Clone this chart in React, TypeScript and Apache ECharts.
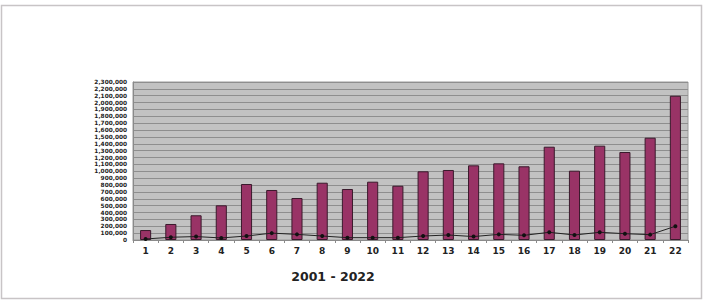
import React, { useEffect, useRef } from "react";
import * as echarts from "echarts";

const categories = ["1","2","3","4","5","6","7","8","9","10","11","12","13","14","15","16","17","18","19","20","21","22"];
const barValues = [145000, 233000, 360000, 505000, 815000, 728000, 611000, 834000, 742000, 849000, 790000, 1000000, 1019000, 1087000, 1116000, 1073000, 1358000, 1009000, 1373000, 1281000, 1489000, 2100000];
const lineValues = [15000, 40000, 50000, 30000, 58000, 100000, 82000, 58000, 34000, 34000, 34000, 58000, 73000, 50000, 82000, 68000, 112000, 73000, 112000, 92000, 78000, 200000];
const periodLabel = "2001 - 2022";

const FONT = "'DejaVu Sans', sans-serif";

export default function App() {
  const ref = useRef<HTMLDivElement>(null);
  useEffect(() => {
    if (!ref.current) return;
    const chart = echarts.init(ref.current, undefined, { renderer: "svg" });
    chart.setOption({
      animation: false,
      backgroundColor: "#ffffff",
      grid: {
        left: 133,
        right: 16,
        top: 82,
        bottom: 61,
        show: true,
        backgroundColor: "#c2c2c2",
        borderColor: "#9a9a9a",
        borderWidth: 1,
      },
      graphic: [
        {
          type: "rect",
          shape: { x: 1.5, y: 5.5, width: 700, height: 293 },
          style: { fill: "none", stroke: "#c8c4c6", lineWidth: 1.5 },
          z: -1,
        },
        {
          type: "text",
          x: 333,
          y: 276,
          style: {
            text: periodLabel,
            fill: "#222",
            font: "bold 12.5px 'DejaVu Sans', sans-serif",
            textAlign: "center",
            textVerticalAlign: "middle",
          },
        },
      ],
      xAxis: {
        type: "category",
        data: categories,
        axisLine: { show: true, lineStyle: { color: "#8a8a8a" } },
        axisTick: { show: true, alignWithLabel: false, length: 3, lineStyle: { color: "#8a8a8a" } },
        axisLabel: {
          color: "#222",
          fontSize: 9,
          fontWeight: "bold",
          fontFamily: FONT,
          margin: 6,
          interval: 0,
        },
      },
      yAxis: {
        type: "value",
        min: 0,
        max: 2300000,
        interval: 100000,
        axisLine: { show: true, lineStyle: { color: "#8a8a8a" } },
        axisTick: { show: false },
        splitLine: { show: true, lineStyle: { color: "#8e8e8e", width: 1 } },
        axisLabel: {
          color: "#222",
          fontSize: 5.8,
          fontWeight: "bold",
          fontFamily: FONT,
          margin: 6,
          showMinLabel: true,
          showMaxLabel: true,
          hideOverlap: false,
          formatter: (v: number) => v.toLocaleString("en-US"),
        },
      },
      series: [
        {
          type: "bar",
          data: barValues,
          barWidth: "44%",
          itemStyle: { color: "#993366", borderColor: "#3a1a2c", borderWidth: 1 },
        },
        {
          type: "line",
          data: lineValues,
          symbol: "circle",
          symbolSize: 4,
          itemStyle: { color: "#111" },
          lineStyle: { color: "#222", width: 1 },
          z: 3,
        },
      ],
    });
    return () => chart.dispose();
  }, []);
  return (
    <div
      ref={ref}
      style={{ position: "fixed", left: 0, top: 0, width: 704, height: 301 }}
    />
  );
}
